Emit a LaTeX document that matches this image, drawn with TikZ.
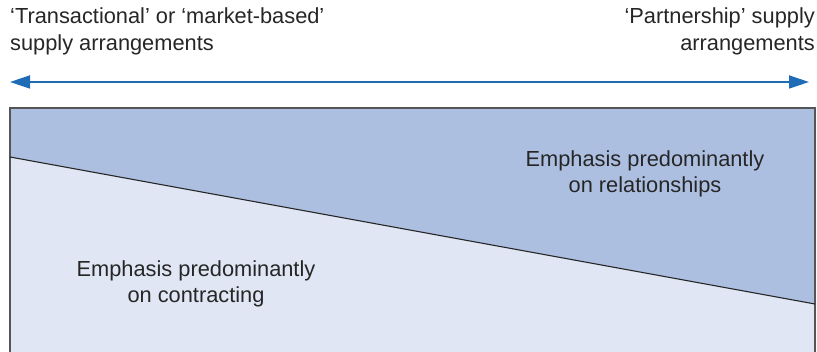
\documentclass[tikz,border=0pt]{standalone}
\usepackage{fontspec}
\setmainfont{Liberation Sans}
\usetikzlibrary{arrows.meta}
\definecolor{topblue}{HTML}{ADBFE0}
\definecolor{lowblue}{HTML}{E0E6F4}
\definecolor{arrowblue}{HTML}{1F6BB5}
\definecolor{edgegrey}{HTML}{555555}
\begin{document}
\begin{tikzpicture}[x=1pt,y=-1pt,
  lbl/.style={font=\fontsize{21.8}{26.5}\selectfont, text=black!85, inner sep=0pt},
  innerlbl/.style={lbl, align=center}]
\useasboundingbox (0,0) rectangle (817,352);
% regions
\coordinate (tl) at (10,108);
\coordinate (tr) at (815,108);
\coordinate (dl) at (10,157);
\coordinate (dr) at (815,304);
\coordinate (bl) at (10,360);
\coordinate (br) at (815,360);
\fill[topblue] (tl) -- (tr) -- (dr) -- (dl) -- cycle;
\fill[lowblue] (dl) -- (dr) -- (br) -- (bl) -- cycle;
\draw[edgegrey, line width=1.2pt] (bl) -- (tl) -- (tr) -- (br);
\draw[black!85, line width=1.1pt] (dl) -- (dr);
% arrow
\coordinate (al) at (10,82);
\coordinate (ar) at (809,82);
\draw[arrowblue, line width=1.8pt, {Triangle[length=20pt,width=13pt]}-{Triangle[length=20pt,width=13pt]}] (al) -- (ar);
% texts
\node[lbl, anchor=north west, align=left] (lt) at (10,8) {‘Transactional’ or ‘market-based’\\supply arrangements};
\node[lbl, anchor=north east, align=right] (rt) at (815,8) {‘Partnership’ supply\\arrangements};
\node[innerlbl] (up) at (645,174) {Emphasis predominantly\\on relationships};
\node[innerlbl] (lo) at (196,284) {Emphasis predominantly\\on contracting};
\end{tikzpicture}
\end{document}
